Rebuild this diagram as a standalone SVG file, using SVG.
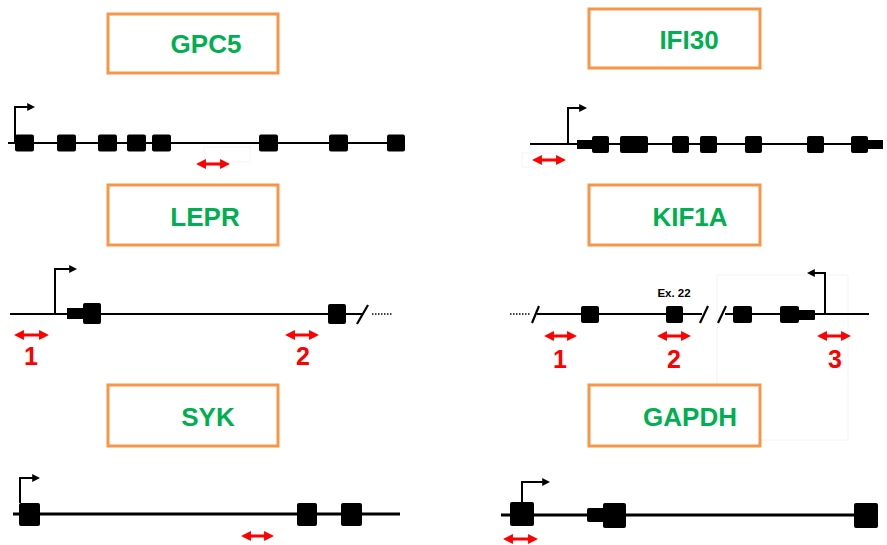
<svg xmlns="http://www.w3.org/2000/svg" width="887" height="545" viewBox="0 0 887 545">
  <style>
    .box { fill: #ffffff; stroke: #f79646; stroke-width: 3; }
    .name { font-family: "Liberation Sans", Arial, sans-serif; font-weight: bold; font-size: 26px; fill: #00b050; text-anchor: middle; }
    .dna { stroke: #000; stroke-width: 2.2; fill: none; }
    .dna3 { stroke: #000; stroke-width: 3; fill: none; }
    .exon { fill: #000; }
    .tss { stroke: #000; stroke-width: 2; fill: none; }
    .amp { stroke: #ff0000; stroke-width: 3; fill: none; marker-start: url(#redHead); marker-end: url(#redHead); }
    .num { font-family: "Liberation Sans", Arial, sans-serif; font-weight: bold; font-size: 25px; fill: #ff0000; text-anchor: middle; }
    .exlab { font-family: "Liberation Sans", Arial, sans-serif; font-weight: bold; font-size: 11.5px; fill: #000; text-anchor: middle; }
    .dots { stroke: #000; stroke-width: 1.5; stroke-dasharray: 1.5 1.5; fill: none; }
    .frame { fill: none; stroke: #f4f4f4; stroke-width: 1; }
  </style>
  <defs>
    <marker id="blackHead" viewBox="0 0 10 10" refX="6" refY="5" markerWidth="4" markerHeight="4" orient="auto-start-reverse" markerUnits="strokeWidth">
      <path d="M0,0 L10,5 L0,10 z" fill="#000"/>
    </marker>
    <marker id="redHead" viewBox="0 0 10 10" refX="6" refY="5" markerWidth="3.3" markerHeight="3.3" orient="auto-start-reverse" markerUnits="strokeWidth">
      <path d="M0,0 L10,5 L0,10 z" fill="#ff0000"/>
    </marker>
  </defs>

  <!-- faint background frames around the right-hand KIF1A segment -->
  <rect class="frame" x="717" y="275" width="131" height="165"/>

  <!-- GPC5 -->
  <g id="gpc5">
    <rect class="box" x="108" y="14" width="170" height="59"/>
    <text class="name" x="206" y="53">GPC5</text>
    <rect class="frame" x="204" y="147" width="46" height="15"/>
    <line class="dna" x1="8" y1="143" x2="405" y2="143"/>
    <path class="tss" d="M15,143 V107 H32" marker-end="url(#blackHead)"/>
    <rect class="exon" x="15" y="134.5" width="19" height="17" rx="2"/>
    <rect class="exon" x="57" y="134.5" width="19" height="17" rx="2"/>
    <rect class="exon" x="98" y="134.5" width="19" height="17" rx="2"/>
    <rect class="exon" x="127" y="134.5" width="19" height="17" rx="2"/>
    <rect class="exon" x="152" y="134.5" width="19" height="17" rx="2"/>
    <rect class="exon" x="259" y="134.5" width="19" height="17" rx="2"/>
    <rect class="exon" x="329" y="134.5" width="19" height="17" rx="2"/>
    <rect class="exon" x="387" y="134.5" width="18" height="17" rx="2"/>
    <line class="amp" x1="200" y1="164" x2="226" y2="164"/>
  </g>

  <!-- IFI30 -->
  <g id="ifi30">
    <rect class="box" x="589" y="9" width="171" height="59"/>
    <text class="name" x="689" y="49">IFI30</text>
    <rect class="frame" x="522" y="153" width="45" height="14"/>
    <line class="dna" x1="530" y1="144" x2="883" y2="144"/>
    <path class="tss" d="M568,144 V108 H584" marker-end="url(#blackHead)"/>
    <rect class="exon" x="577" y="140" width="16" height="9"/>
    <rect class="exon" x="592" y="136" width="17" height="17" rx="2"/>
    <rect class="exon" x="620" y="136" width="28" height="17" rx="2"/>
    <rect class="exon" x="672" y="136" width="17" height="17" rx="2"/>
    <rect class="exon" x="700" y="136" width="17" height="17" rx="2"/>
    <rect class="exon" x="745" y="136" width="17" height="17" rx="2"/>
    <rect class="exon" x="807" y="136" width="17" height="17" rx="2"/>
    <rect class="exon" x="851" y="136" width="17" height="17" rx="2"/>
    <rect class="exon" x="866" y="140" width="17" height="9"/>
    <line class="amp" x1="536" y1="160" x2="562" y2="160"/>
  </g>

  <!-- LEPR -->
  <g id="lepr">
    <rect class="box" x="108" y="185" width="170" height="60"/>
    <text class="name" x="205" y="226">LEPR</text>
    <line class="dna" x1="10" y1="314" x2="362" y2="314"/>
    <line class="dna" x1="357" y1="324" x2="368" y2="305"/>
    <line class="dots" x1="372" y1="314" x2="393" y2="314"/>
    <path class="tss" d="M55,314 V269 H74" marker-end="url(#blackHead)"/>
    <rect class="exon" x="67" y="308" width="17" height="11"/>
    <rect class="exon" x="83" y="303" width="18" height="21" rx="2"/>
    <rect class="exon" x="328" y="304" width="18" height="20" rx="2"/>
    <line class="amp" x1="18" y1="335" x2="45" y2="335"/>
    <text class="num" x="31" y="365">1</text>
    <line class="amp" x1="289" y1="335" x2="315" y2="335"/>
    <text class="num" x="303" y="365">2</text>
  </g>

  <!-- KIF1A -->
  <g id="kif1a">
    <rect class="box" x="589" y="185" width="171" height="60"/>
    <text class="name" x="690" y="226">KIF1A</text>
    <line class="dots" x1="510" y1="314" x2="530" y2="314"/>
    <line class="dna" x1="532" y1="323" x2="539" y2="306"/>
    <line class="dna" x1="537" y1="314" x2="702" y2="314"/>
    <line class="dna" x1="700" y1="323" x2="708" y2="306"/>
    <line class="dna" x1="718" y1="323" x2="726" y2="306"/>
    <line class="dna" x1="725" y1="314" x2="869" y2="314"/>
    <rect class="exon" x="581" y="306" width="18" height="17" rx="2"/>
    <rect class="exon" x="666" y="306" width="17" height="17" rx="2"/>
    <text class="exlab" x="674" y="297">Ex. 22</text>
    <rect class="exon" x="733" y="306" width="19" height="17" rx="2"/>
    <rect class="exon" x="780" y="306" width="19" height="17" rx="2"/>
    <rect class="exon" x="797" y="310" width="18" height="10" rx="1"/>
    <path class="tss" d="M825,314 V273 H810" marker-end="url(#blackHead)"/>
    <line class="amp" x1="548" y1="336" x2="573" y2="336"/>
    <text class="num" x="560" y="368">1</text>
    <line class="amp" x1="661" y1="336" x2="687" y2="336"/>
    <text class="num" x="674" y="368">2</text>
    <line class="amp" x1="821" y1="336" x2="847" y2="336"/>
    <text class="num" x="835" y="368">3</text>
  </g>

  <!-- SYK -->
  <g id="syk">
    <rect class="box" x="108" y="385" width="170" height="61"/>
    <text class="name" x="208" y="426">SYK</text>
    <line class="dna3" x1="13" y1="514" x2="400" y2="514"/>
    <path class="tss" d="M20,503 V478 H37" marker-end="url(#blackHead)"/>
    <rect class="exon" x="19" y="503" width="21" height="23" rx="2"/>
    <rect class="exon" x="297" y="503" width="20" height="23" rx="2"/>
    <rect class="exon" x="341" y="503" width="21" height="23" rx="2"/>
    <line class="amp" x1="245" y1="536" x2="270" y2="536"/>
  </g>

  <!-- GAPDH -->
  <g id="gapdh">
    <rect class="box" x="589" y="385" width="171" height="61"/>
    <text class="name" x="690" y="426">GAPDH</text>
    <line class="dna3" x1="501" y1="515" x2="878" y2="515"/>
    <path class="tss" d="M522,502 V482 H547" marker-end="url(#blackHead)"/>
    <rect class="exon" x="510" y="502" width="24" height="24" rx="2"/>
    <rect class="exon" x="587" y="508" width="18" height="14" rx="2"/>
    <rect class="exon" x="603" y="503" width="23" height="25" rx="2"/>
    <rect class="exon" x="854" y="503" width="24" height="25" rx="2"/>
    <line class="amp" x1="507" y1="539" x2="534" y2="539"/>
  </g>
</svg>
